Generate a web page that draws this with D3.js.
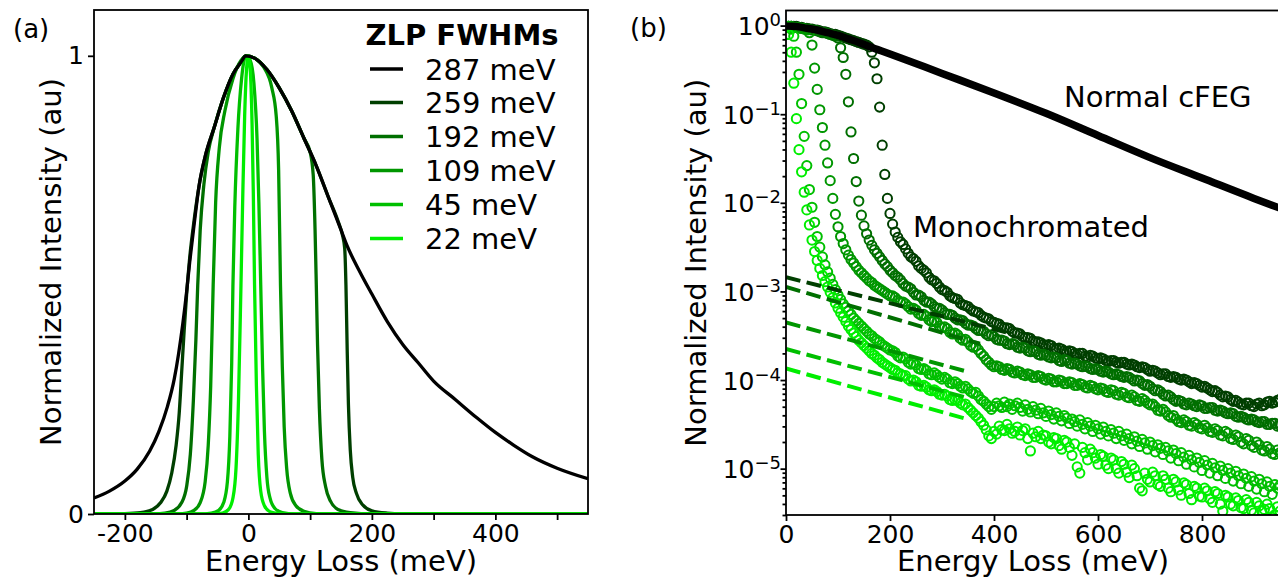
<!DOCTYPE html>
<html>
<head>
<meta charset="utf-8">
<script src="https://cdn.jsdelivr.net/npm/d3@7"></script>
<style>
  body { margin: 0; background: #fff; }
  svg { display: block; font-family: "DejaVu Sans", sans-serif; }
</style>
</head>
<body>
<svg id="chart" width="1278" height="577"></svg>
<script>
// ---- shared legend / colours ----
const fwhmLabels = ["287 meV", "259 meV", "192 meV", "109 meV", "45 meV", "22 meV"];
const seriesColors = ["#000000", "#003f00", "#006f00", "#009600", "#00bf00", "#00ee00"];

// ---- panel (a): [energy loss (meV), normalized intensity] ----
const zlp287 = [[-250,0.035],[-225,0.05],[-200,0.072],[-180,0.098],[-160,0.137],[-145,0.18],[-131,0.235],[-120,0.295],[-113,0.35],[-100,0.485],[-95,0.55],[-88,0.63],[-80,0.715],[-70,0.78],[-55,0.845],[-40,0.91],[-25,0.96],[-10,0.99],[-5,1.0],[10,0.995],[30,0.97],[50,0.93],[70,0.88],[90,0.82],[110,0.76],[130,0.69],[150,0.62],[160,0.585],[180,0.53],[200,0.48],[225,0.42],[250,0.37],[275,0.33],[300,0.29],[335,0.25],[370,0.21],[400,0.178],[430,0.15],[460,0.125],[500,0.10],[550,0.077]];
const zlp259 = [[-250,0],[-200,0.001],[-175,0.003],[-155,0.01],[-142,0.025],[-132,0.05],[-124,0.09],[-117,0.15],[-112,0.22],[-108,0.31],[-104,0.4],[-100,0.48],[-95,0.56],[-88,0.64],[-80,0.715],[-70,0.78],[-55,0.845],[-40,0.91],[-25,0.96],[-10,0.99],[-5,1.0],[10,0.995],[30,0.97],[50,0.93],[70,0.88],[90,0.82],[110,0.76],[130,0.69],[145,0.64],[153,0.605],[156,0.58],[158,0.5],[160,0.36],[162,0.24],[165,0.14],[169,0.08],[175,0.045],[185,0.02],[200,0.007],[225,0.002],[260,0],[550,0]];
const zlp192 = [[-250,0],[-160,0],[-135,0.002],[-120,0.008],[-108,0.025],[-100,0.06],[-94,0.13],[-89,0.25],[-85,0.38],[-82,0.5],[-78,0.62],[-72,0.72],[-65,0.79],[-55,0.845],[-40,0.91],[-25,0.96],[-10,0.99],[-5,1.0],[10,0.995],[30,0.97],[50,0.93],[70,0.88],[90,0.82],[100,0.79],[105,0.74],[108,0.62],[110,0.5],[112,0.37],[115,0.23],[119,0.12],[125,0.06],[133,0.028],[145,0.01],[165,0.003],[200,0],[550,0]];
const zlp109 = [[-250,0],[-120,0],[-100,0.002],[-88,0.008],[-78,0.025],[-70,0.07],[-65,0.15],[-61,0.28],[-57,0.5],[-53,0.68],[-47,0.8],[-38,0.88],[-25,0.95],[-12,0.99],[-3,1.0],[10,0.995],[25,0.975],[38,0.93],[45,0.87],[49,0.75],[52,0.5],[55,0.32],[58,0.19],[62,0.1],[68,0.045],[77,0.018],[90,0.006],[110,0.001],[140,0],[550,0]];
const zlp45 = [[-250,0],[-80,0],[-60,0.002],[-48,0.008],[-40,0.025],[-34,0.07],[-30,0.17],[-27,0.33],[-25,0.5],[-22,0.67],[-17,0.84],[-11,0.95],[-4,1.0],[3,0.99],[9,0.94],[14,0.82],[17,0.68],[20,0.5],[23,0.32],[26,0.18],[30,0.08],[35,0.035],[43,0.012],[55,0.003],[75,0],[550,0]];
const zlp22 = [[-250,0],[-60,0],[-42,0.002],[-32,0.01],[-25,0.035],[-20,0.1],[-16,0.25],[-12,0.5],[-9,0.7],[-6,0.87],[-3,0.97],[0,1.0],[3,0.97],[6,0.85],[8,0.7],[10,0.5],[13,0.28],[16,0.13],[20,0.05],[26,0.018],[35,0.005],[50,0.001],[65,0],[550,0]];
const xTicksA = [-200, -100, 0, 100, 200, 300, 400, 500];
const xLabelsA = [-200, 0, 200, 400];
const yTicksA = [0, 1];

// ---- panel (b): energy grid (meV) and log10 of normalized intensity ----
const energyB = [
  0, 5, 10, 15, 20, 25, 30, 35, 40, 45,
  50, 55, 60, 65, 70, 75, 80, 85, 90, 95,
  100, 105, 110, 115, 120, 125, 130, 135, 140, 145,
  150, 155, 160, 165, 170, 175, 180, 185, 190, 195,
  200, 205, 210, 215, 220, 225, 230, 235, 240, 245,
  250, 255, 260, 265, 270, 275, 280, 285, 290, 295,
  300, 305, 310, 315, 320, 325, 330, 335, 340, 345,
  350, 355, 360, 365, 370, 375, 380, 385, 390, 395,
  400, 405, 410, 415, 420, 425, 430, 435, 440, 445,
  450, 455, 460, 465, 470, 475, 480, 485, 490, 495,
  500, 505, 510, 515, 520, 525, 530, 535, 540, 545,
  550, 555, 560, 565, 570, 575, 580, 585, 590, 595,
  600, 605, 610, 615, 620, 625, 630, 635, 640, 645,
  650, 655, 660, 665, 670, 675, 680, 685, 690, 695,
  700, 705, 710, 715, 720, 725, 730, 735, 740, 745,
  750, 755, 760, 765, 770, 775, 780, 785, 790, 795,
  800, 805, 810, 815, 820, 825, 830, 835, 840, 845,
  850, 855, 860, 865, 870, 875, 880, 885, 890, 895,
  900, 905, 910, 915, 920, 925, 930, 935, 940, 945,
  950
];
const logB259 = [
  -0.01,-0.01,-0.01,-0.01,-0.01,-0.02,-0.02,-0.03,-0.03,-0.04,
  -0.04,-0.05,-0.05,-0.06,-0.07,-0.07,-0.08,-0.09,-0.10,-0.10,
  -0.11,-0.12,-0.13,-0.14,-0.15,-0.16,-0.17,-0.18,-0.19,-0.20,
  -0.21,-0.22,-0.24,-0.30,-0.42,-0.60,-0.92,-1.35,-1.68,-1.95,
  -2.12,-2.24,-2.33,-2.39,-2.44,-2.47,-2.52,-2.57,-2.61,-2.63,
  -2.66,-2.71,-2.74,-2.76,-2.79,-2.84,-2.87,-2.88,-2.91,-2.95,
  -2.98,-2.99,-3.01,-3.05,-3.07,-3.08,-3.09,-3.13,-3.15,-3.16,
  -3.17,-3.20,-3.22,-3.23,-3.24,-3.27,-3.29,-3.30,-3.31,-3.34,
  -3.35,-3.36,-3.37,-3.40,-3.41,-3.41,-3.42,-3.45,-3.47,-3.47,
  -3.48,-3.51,-3.52,-3.52,-3.53,-3.56,-3.57,-3.57,-3.58,-3.60,
  -3.61,-3.60,-3.61,-3.64,-3.65,-3.64,-3.65,-3.67,-3.68,-3.67,
  -3.68,-3.70,-3.71,-3.70,-3.70,-3.73,-3.74,-3.72,-3.73,-3.75,
  -3.76,-3.75,-3.76,-3.78,-3.79,-3.78,-3.78,-3.80,-3.81,-3.80,
  -3.80,-3.82,-3.83,-3.82,-3.83,-3.85,-3.86,-3.85,-3.86,-3.88,
  -3.90,-3.89,-3.90,-3.92,-3.94,-3.93,-3.93,-3.96,-3.97,-3.96,
  -3.97,-3.99,-4.00,-3.99,-4.00,-4.02,-4.04,-4.03,-4.04,-4.06,
  -4.08,-4.07,-4.09,-4.11,-4.13,-4.12,-4.14,-4.17,-4.19,-4.18,
  -4.19,-4.22,-4.24,-4.23,-4.25,-4.27,-4.28,-4.26,-4.26,-4.29,
  -4.30,-4.27,-4.26,-4.29,-4.28,-4.25,-4.24,-4.26,-4.25,-4.23,
  -4.22
];
const logB192 = [
  -0.01,-0.01,-0.01,-0.02,-0.02,-0.02,-0.03,-0.03,-0.04,-0.04,
  -0.05,-0.05,-0.06,-0.07,-0.08,-0.08,-0.09,-0.10,-0.11,-0.12,
  -0.14,-0.25,-0.36,-0.55,-0.86,-1.20,-1.50,-1.76,-1.98,-2.14,
  -2.26,-2.35,-2.42,-2.48,-2.53,-2.57,-2.61,-2.65,-2.69,-2.72,
  -2.76,-2.79,-2.82,-2.84,-2.87,-2.91,-2.94,-2.95,-2.97,-3.01,
  -3.04,-3.04,-3.06,-3.10,-3.12,-3.12,-3.14,-3.17,-3.19,-3.19,
  -3.21,-3.24,-3.26,-3.26,-3.27,-3.30,-3.32,-3.32,-3.33,-3.36,
  -3.38,-3.38,-3.39,-3.42,-3.44,-3.44,-3.45,-3.48,-3.50,-3.49,
  -3.51,-3.54,-3.55,-3.55,-3.56,-3.59,-3.60,-3.59,-3.60,-3.63,
  -3.64,-3.63,-3.64,-3.67,-3.68,-3.67,-3.68,-3.71,-3.72,-3.71,
  -3.72,-3.74,-3.75,-3.74,-3.75,-3.78,-3.79,-3.77,-3.78,-3.81,
  -3.82,-3.81,-3.82,-3.84,-3.85,-3.84,-3.85,-3.87,-3.88,-3.87,
  -3.88,-3.90,-3.91,-3.90,-3.91,-3.93,-3.94,-3.93,-3.94,-3.96,
  -3.97,-3.96,-3.97,-3.99,-4.01,-4.00,-4.01,-4.04,-4.06,-4.05,
  -4.07,-4.10,-4.12,-4.11,-4.13,-4.16,-4.18,-4.17,-4.19,-4.22,
  -4.24,-4.23,-4.24,-4.27,-4.28,-4.26,-4.27,-4.29,-4.30,-4.28,
  -4.29,-4.32,-4.32,-4.31,-4.31,-4.34,-4.35,-4.34,-4.35,-4.37,
  -4.38,-4.37,-4.38,-4.41,-4.42,-4.41,-4.42,-4.44,-4.45,-4.44,
  -4.45,-4.47,-4.48,-4.47,-4.47,-4.50,-4.50,-4.49,-4.49,-4.52,
  -4.51
];
const logB109 = [
  -0.01,-0.01,-0.01,-0.02,-0.02,-0.03,-0.03,-0.04,-0.05,-0.08,
  -0.22,-0.48,-0.72,-0.95,-1.15,-1.35,-1.55,-1.75,-1.95,-2.13,
  -2.27,-2.38,-2.46,-2.53,-2.59,-2.64,-2.68,-2.72,-2.76,-2.79,
  -2.82,-2.85,-2.88,-2.90,-2.93,-2.95,-2.97,-2.99,-3.01,-3.03,
  -3.05,-3.05,-3.07,-3.10,-3.12,-3.12,-3.14,-3.17,-3.20,-3.19,
  -3.21,-3.25,-3.27,-3.26,-3.28,-3.32,-3.34,-3.33,-3.35,-3.39,
  -3.41,-3.40,-3.42,-3.46,-3.48,-3.47,-3.49,-3.53,-3.55,-3.54,
  -3.57,-3.61,-3.63,-3.62,-3.66,-3.70,-3.73,-3.77,-3.80,-3.83,
  -3.85,-3.84,-3.85,-3.88,-3.89,-3.87,-3.88,-3.91,-3.92,-3.90,
  -3.91,-3.94,-3.95,-3.93,-3.94,-3.97,-3.97,-3.95,-3.96,-3.99,
  -4.00,-3.98,-3.99,-4.02,-4.02,-4.00,-4.01,-4.04,-4.04,-4.02,
  -4.03,-4.06,-4.06,-4.04,-4.05,-4.08,-4.09,-4.06,-4.07,-4.10,
  -4.11,-4.09,-4.10,-4.13,-4.14,-4.11,-4.12,-4.16,-4.17,-4.14,
  -4.15,-4.19,-4.20,-4.17,-4.19,-4.23,-4.24,-4.21,-4.23,-4.26,
  -4.28,-4.27,-4.30,-4.34,-4.35,-4.33,-4.36,-4.40,-4.42,-4.40,
  -4.44,-4.47,-4.48,-4.45,-4.47,-4.51,-4.52,-4.48,-4.50,-4.54,
  -4.55,-4.51,-4.54,-4.58,-4.59,-4.55,-4.57,-4.62,-4.63,-4.58,
  -4.60,-4.66,-4.67,-4.62,-4.64,-4.70,-4.72,-4.66,-4.68,-4.74,
  -4.76,-4.70,-4.73,-4.79,-4.80,-4.75,-4.78,-4.83,-4.84,-4.79,
  -4.82
];
const logB45 = [
  -0.01,-0.02,-0.04,-0.12,-0.30,-0.55,-0.88,-1.25,-1.58,-1.85,
  -2.05,-2.22,-2.38,-2.50,-2.61,-2.70,-2.78,-2.85,-2.92,-2.98,
  -3.04,-3.09,-3.14,-3.18,-3.22,-3.26,-3.30,-3.33,-3.36,-3.39,
  -3.42,-3.45,-3.48,-3.50,-3.53,-3.55,-3.57,-3.60,-3.62,-3.64,
  -3.66,-3.67,-3.69,-3.73,-3.75,-3.74,-3.76,-3.80,-3.82,-3.81,
  -3.83,-3.87,-3.88,-3.87,-3.89,-3.93,-3.94,-3.92,-3.94,-3.97,
  -3.99,-3.97,-3.99,-4.03,-4.04,-4.02,-4.04,-4.07,-4.09,-4.07,
  -4.10,-4.13,-4.15,-4.14,-4.18,-4.22,-4.24,-4.27,-4.30,-4.33,
  -4.30,-4.26,-4.29,-4.31,-4.25,-4.30,-4.27,-4.33,-4.29,-4.26,
  -4.31,-4.35,-4.28,-4.33,-4.36,-4.30,-4.34,-4.38,-4.32,-4.37,
  -4.41,-4.35,-4.39,-4.44,-4.37,-4.41,-4.46,-4.40,-4.43,-4.49,
  -4.44,-4.47,-4.52,-4.45,-4.50,-4.55,-4.48,-4.52,-4.58,-4.51,
  -4.55,-4.61,-4.53,-4.58,-4.63,-4.56,-4.60,-4.66,-4.58,-4.63,
  -4.68,-4.61,-4.66,-4.72,-4.64,-4.69,-4.75,-4.67,-4.71,-4.78,
  -4.70,-4.74,-4.81,-4.73,-4.77,-4.84,-4.76,-4.80,-4.88,-4.79,
  -4.83,-4.91,-4.82,-4.87,-4.95,-4.85,-4.90,-4.98,-4.88,-4.93,
  -5.02,-4.91,-4.96,-5.05,-4.94,-4.99,-5.08,-4.97,-5.02,-5.11,
  -5.00,-5.05,-5.14,-5.03,-5.08,-5.17,-5.06,-5.11,-5.20,-5.09,
  -5.14,-5.23,-5.12,-5.17,-5.26,-5.15,-5.20,-5.29,-5.18,-5.22,
  -5.19
];
const logB22 = [
  -0.02,-0.10,-0.30,-0.65,-1.05,-1.40,-1.65,-1.88,-2.08,-2.25,
  -2.42,-2.55,-2.65,-2.74,-2.82,-2.89,-2.95,-3.01,-3.07,-3.13,
  -3.19,-3.24,-3.29,-3.34,-3.39,-3.43,-3.47,-3.51,-3.55,-3.58,
  -3.61,-3.64,-3.67,-3.70,-3.72,-3.75,-3.77,-3.80,-3.82,-3.84,
  -3.86,-3.88,-3.89,-3.92,-3.93,-3.95,-3.95,-3.99,-4.01,-4.00,
  -4.02,-4.06,-4.07,-4.06,-4.08,-4.11,-4.12,-4.11,-4.13,-4.16,
  -4.17,-4.16,-4.18,-4.22,-4.23,-4.22,-4.23,-4.26,-4.28,-4.27,
  -4.31,-4.34,-4.37,-4.40,-4.43,-4.47,-4.51,-4.56,-4.63,-4.66,
  -4.58,-4.61,-4.52,-4.56,-4.57,-4.50,-4.55,-4.60,-4.58,-4.53,
  -4.62,-4.57,-4.55,-4.66,-4.80,-4.60,-4.64,-4.58,-4.66,-4.62,
  -4.63,-4.70,-4.72,-4.65,-4.66,-4.74,-4.78,-4.68,-4.70,-4.76,
  -4.85,-4.72,-4.98,-5.05,-4.76,-4.82,-4.90,-4.78,-4.82,-4.88,
  -4.95,-4.84,-4.86,-4.96,-5.00,-4.88,-4.90,-5.00,-5.05,-4.92,
  -4.95,-5.04,-5.10,-4.96,-5.00,-5.08,-5.22,-5.25,-5.05,-5.12,
  -5.15,-5.04,-5.08,-5.18,-5.20,-5.08,-5.12,-5.22,-5.26,-5.12,
  -5.15,-5.24,-5.30,-5.16,-5.18,-5.28,-5.35,-5.20,-5.22,-5.31,
  -5.32,-5.22,-5.25,-5.34,-5.38,-5.26,-5.28,-5.40,-5.48,-5.30,
  -5.32,-5.40,-5.42,-5.33,-5.36,-5.44,-5.45,-5.35,-5.38,-5.47,
  -5.50,-5.38,-5.42,-5.48,-5.46,-5.40,-5.45,-5.55,-5.52,-5.43,
  -5.48
];
// normal cFEG (black) line
const cfegE = [0, 20, 40, 60, 80, 100, 120, 140, 160, 200, 300, 400, 500, 600, 700, 800, 900, 950];
const cfegLog = [-0.005, -0.01, -0.03, -0.05, -0.08, -0.11, -0.15, -0.19, -0.235, -0.32, -0.54, -0.76, -0.99, -1.24, -1.49, -1.72, -1.95, -2.06];
// dashed tail fits (259, 192, 109, 45, 22)
const fitStartLog = [-2.84, -2.95, -3.35, -3.65, -3.87];
const fitEndE = [430, 373, 345, 342, 342];
const fitEndLog = [-3.47, -3.59, -3.90, -4.19, -4.43];
const xTicksB = [0, 200, 400, 600, 800];
const yMajorB = [1, 1e-1, 1e-2, 1e-3, 1e-4, 1e-5];
const yExpB = ["0", "\u22121", "\u22122", "\u22123", "\u22124", "\u22125"];

const svg = d3.select("#chart");

function styleAxis(g) {
    g.select(".domain").remove();
    g.selectAll(".tick line").attr("stroke", "#000").attr("stroke-width", 1.8);
    g.selectAll(".tick text").attr("font-size", 25).attr("fill", "#000")
        .attr("font-family", "DejaVu Sans, sans-serif");
}

// ================= panel (a) =================
const A = { left: 94, right: 588, top: 10, bottom: 514 };
const xA = d3.scaleLinear().domain([-250, 550]).range([A.left, A.right]);
const yA = d3.scaleLinear().domain([0, 1.1]).range([A.bottom, A.top]);

svg.append("clipPath").attr("id", "clipA")
    .append("rect").attr("x", A.left).attr("y", A.top)
    .attr("width", A.right - A.left).attr("height", A.bottom - A.top);

const lineA = d3.line().x(d => xA(d[0])).y(d => yA(d[1])).curve(d3.curveMonotoneX);
const curvesA = [zlp287, zlp259, zlp192, zlp109, zlp45, zlp22];
const gA = svg.append("g").attr("clip-path", "url(#clipA)");
// greens first, black on top
[1, 2, 3, 4, 5, 0].forEach(i => {
    gA.append("path").datum(curvesA[i])
        .attr("d", lineA)
        .attr("fill", "none")
        .attr("stroke", seriesColors[i])
        .attr("stroke-width", 3.3)
        .attr("stroke-linejoin", "round");
});

svg.append("g").attr("transform", `translate(0,${A.bottom})`)
    .call(d3.axisBottom(xA).tickValues(xTicksA).tickSize(6).tickPadding(4)
        .tickFormat(d => xLabelsA.includes(d) ? String(d) : ""))
    .call(styleAxis);
svg.append("g").attr("transform", `translate(${A.left},0)`)
    .call(d3.axisLeft(yA).tickValues(yTicksA).tickSize(6).tickPadding(4).tickFormat(d => String(d)))
    .call(styleAxis);

svg.append("rect").attr("x", A.left).attr("y", A.top)
    .attr("width", A.right - A.left).attr("height", A.bottom - A.top)
    .attr("fill", "none").attr("stroke", "#000").attr("stroke-width", 1.8);

svg.append("text").attr("x", 13).attr("y", 38).attr("font-size", 26).text("(a)");
svg.append("text").attr("x", (A.left + A.right) / 2).attr("y", 571)
    .attr("text-anchor", "middle").attr("font-size", 29).text("Energy Loss (meV)");
svg.append("text").attr("transform", `translate(61,${(A.top + A.bottom) / 2}) rotate(-90)`)
    .attr("text-anchor", "middle").attr("font-size", 29).text("Normalized Intensity (au)");

// legend
svg.append("text").attr("x", 462).attr("y", 45).attr("text-anchor", "middle")
    .attr("font-size", 29).attr("font-weight", "bold").text("ZLP FWHMs");
const legRows = [69, 102.5, 136.5, 170.5, 204.5, 238.5];
fwhmLabels.forEach((lab, i) => {
    svg.append("line").attr("x1", 370).attr("x2", 403)
        .attr("y1", legRows[i]).attr("y2", legRows[i])
        .attr("stroke", seriesColors[i]).attr("stroke-width", 3.5);
    svg.append("text").attr("x", 425).attr("y", legRows[i] + 10.5)
        .attr("font-size", 29).text(lab);
});

// ================= panel (b) =================
const B = { left: 786, right: 1280, top: 10.5, bottom: 515 };
const xB = d3.scaleLinear().domain([0, 950]).range([B.left, B.right]);
const yB = d3.scaleLog().domain([3e-6, 1.48]).range([B.bottom, B.top]);

svg.append("clipPath").attr("id", "clipB")
    .append("rect").attr("x", B.left).attr("y", B.top)
    .attr("width", B.right - B.left).attr("height", B.bottom - B.top);
const gB = svg.append("g").attr("clip-path", "url(#clipB)");

const logsB = [null, logB259, logB192, logB109, logB45, logB22];
[1, 2, 3, 4, 5].forEach(i => {
    const pts = energyB.map((e, k) => [e, Math.pow(10, logsB[i][k])]);
    gB.append("g").selectAll("circle").data(pts).enter().append("circle")
        .attr("cx", d => xB(d[0]))
        .attr("cy", d => yB(d[1]))
        .attr("r", 4.6)
        .attr("fill", "none")
        .attr("stroke", seriesColors[i])
        .attr("stroke-width", 2);
});

const lineB = d3.line().x(d => xB(d[0])).y(d => yB(d[1]));
[1, 2, 3, 4, 5].forEach(i => {
    const k = i - 1;
    const seg = [[0, Math.pow(10, fitStartLog[k])], [fitEndE[k], Math.pow(10, fitEndLog[k])]];
    gB.append("path").datum(seg).attr("d", lineB)
        .attr("fill", "none").attr("stroke", seriesColors[i])
        .attr("stroke-width", 4).attr("stroke-dasharray", "14.8,6.4");
});

const cfegPts = cfegE.map((e, k) => [e, Math.pow(10, cfegLog[k])]);
gB.append("path").datum(cfegPts)
    .attr("d", d3.line().x(d => xB(d[0])).y(d => yB(d[1])).curve(d3.curveMonotoneX))
    .attr("fill", "none").attr("stroke", "#000").attr("stroke-width", 7.5)
    .attr("stroke-linecap", "round");

svg.append("g").attr("transform", `translate(0,${B.bottom})`)
    .call(d3.axisBottom(xB).tickValues(xTicksB).tickSize(6).tickPadding(4).tickFormat(d => String(d)))
    .call(styleAxis);

const minorB = yB.ticks().filter(v => !yMajorB.some(m => Math.abs(m - v) / m < 1e-6));
svg.append("g").attr("transform", `translate(${B.left},0)`)
    .call(d3.axisLeft(yB).tickValues(minorB).tickSize(3.5).tickFormat(""))
    .call(styleAxis);
svg.append("g").attr("transform", `translate(${B.left},0)`)
    .call(d3.axisLeft(yB).tickValues(yMajorB).tickSize(5.5).tickFormat(""))
    .call(styleAxis);

yMajorB.forEach((v, i) => {
    const t = svg.append("text").attr("x", B.left - 5).attr("y", yB(v) + 9.5)
        .attr("text-anchor", "end").attr("font-size", 25);
    t.append("tspan").text("10");
    t.append("tspan").attr("dy", -9).attr("font-size", 18).text(yExpB[i]);
});

svg.append("rect").attr("x", B.left).attr("y", B.top)
    .attr("width", B.right - B.left).attr("height", B.bottom - B.top)
    .attr("fill", "none").attr("stroke", "#000").attr("stroke-width", 1.8);

svg.append("text").attr("x", 630).attr("y", 37).attr("font-size", 26).text("(b)");
svg.append("text").attr("x", (B.left + B.right) / 2).attr("y", 571)
    .attr("text-anchor", "middle").attr("font-size", 29).text("Energy Loss (meV)");
svg.append("text").attr("transform", `translate(706,${(B.top + B.bottom) / 2}) rotate(-90)`)
    .attr("text-anchor", "middle").attr("font-size", 29).text("Normalized Intensity (au)");
svg.append("text").attr("x", 1064).attr("y", 107).attr("font-size", 29).text("Normal cFEG");
svg.append("text").attr("x", 913).attr("y", 237).attr("font-size", 29).text("Monochromated");
</script>
</body>
</html>
